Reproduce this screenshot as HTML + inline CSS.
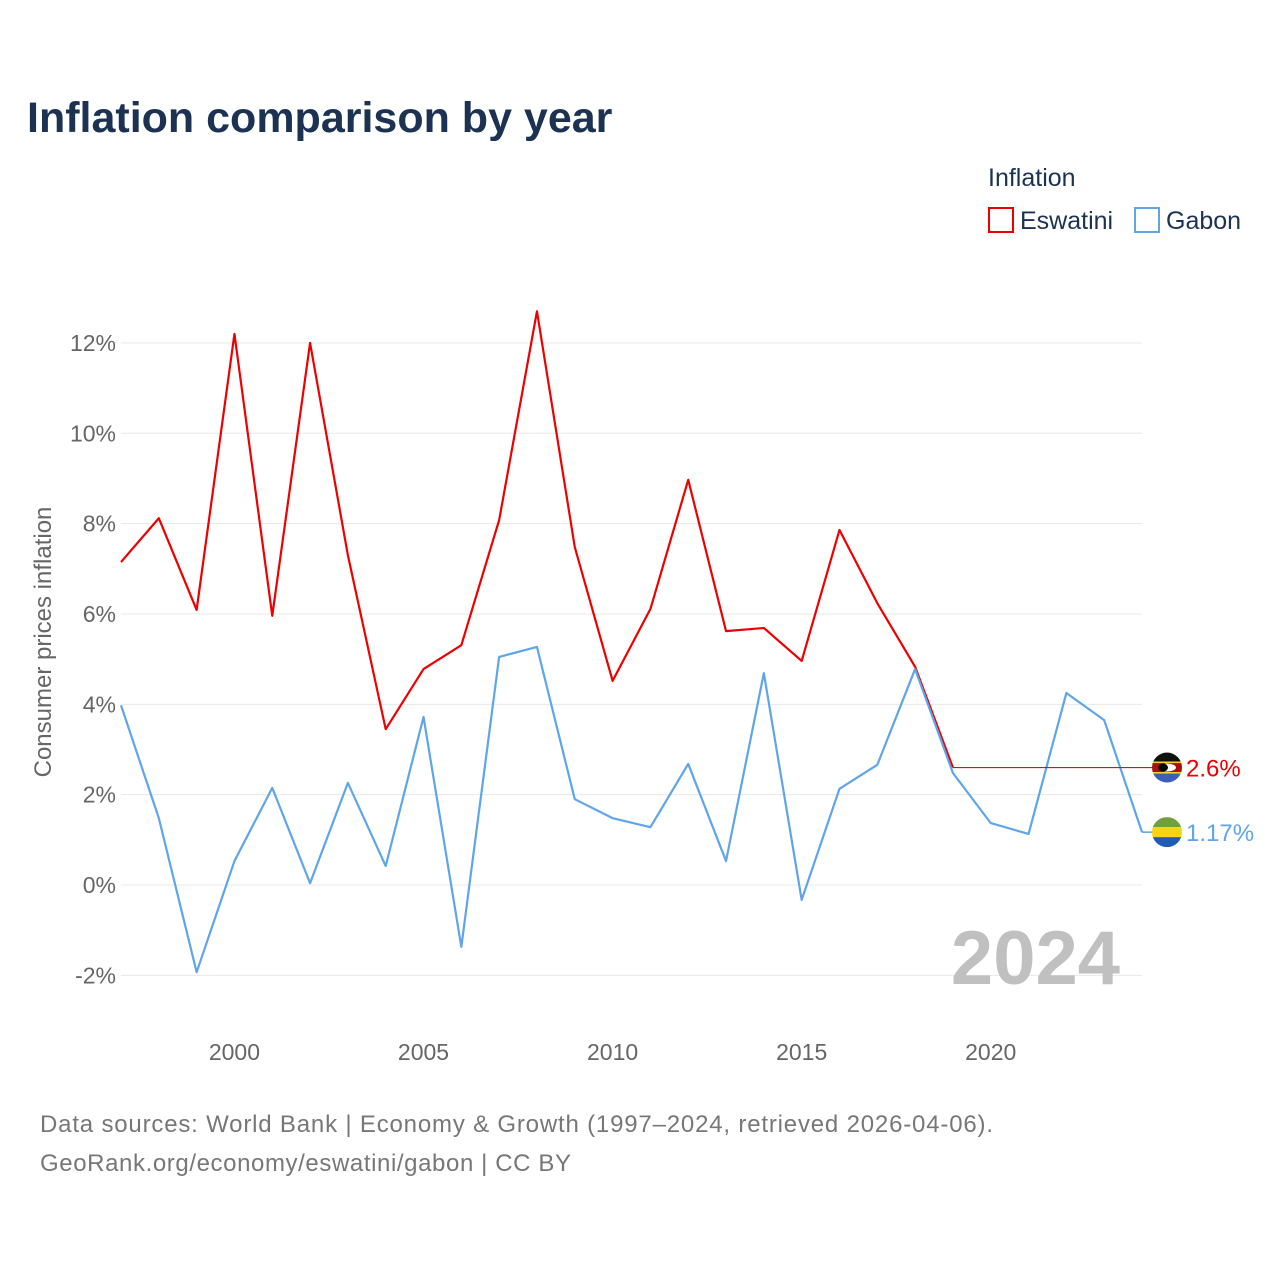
<!DOCTYPE html>
<html><head><meta charset="utf-8">
<style>
body{margin:0;background:#fff;font-family:"Liberation Sans",sans-serif;}
#wrap{position:relative;width:1280px;height:1280px;overflow:hidden;}
</style></head>
<body>
<div id="wrap">
<svg id="chart" width="1280" height="1280" xmlns="http://www.w3.org/2000/svg">
<text x="27" y="132" font-size="43" font-weight="bold" fill="#1b3252" font-family="Liberation Sans, sans-serif">Inflation comparison by year</text>
<text x="988" y="186" font-size="25" fill="#1b3252">Inflation</text>
<g><rect x="989" y="208" width="24" height="24" fill="none" stroke="#ee0000" stroke-width="2"/><text x="1020" y="229" font-size="25" fill="#1b3252">Eswatini</text></g>
<g><rect x="1135" y="208" width="24" height="24" fill="none" stroke="#5ea5ea" stroke-width="2"/><text x="1166" y="229" font-size="25" fill="#1b3252">Gabon</text></g>
<g id="grid"></g>
<g id="series"></g>
<text x="1120" y="984" text-anchor="end" font-size="76" font-weight="bold" fill="#c0c0c0">2024</text>
<text transform="translate(51,642) rotate(-90)" text-anchor="middle" font-size="24" fill="#666">Consumer prices inflation</text>
<text x="40" y="1132" font-size="24" fill="#777" textLength="953">Data sources: World Bank | Economy &amp; Growth (1997–2024, retrieved 2026-04-06).</text>
<text x="40" y="1171" font-size="24" fill="#777" textLength="531">GeoRank.org/economy/eswatini/gabon | CC BY</text>
</svg>
</div>
<script>
const years=[1997,1998,1999,2000,2001,2002,2003,2004,2005,2006,2007,2008,2009,2010,2011,2012,2013,2014,2015,2016,2017,2018,2019,2020,2021,2022,2023,2024];
const eswatini=[7.15,8.12,6.09,12.2,5.96,12.0,7.3,3.45,4.78,5.31,8.08,12.7,7.48,4.52,6.11,8.97,5.62,5.69,4.96,7.86,6.24,4.83,2.6];
const gabon=[3.98,1.48,-1.93,0.53,2.15,0.04,2.26,0.42,3.72,-1.37,5.05,5.27,1.9,1.48,1.28,2.68,0.53,4.69,-0.33,2.13,2.66,4.78,2.48,1.37,1.13,4.25,3.65,1.17];
const yTicks=[-2,0,2,4,6,8,10,12];
const yTickLabels=["-2%","0%","2%","4%","6%","8%","10%","12%"];
const xTicks=[2000,2005,2010,2015,2020];
const eswatiniLabel="2.6%";
const gabonLabel="1.17%";
const NS="http://www.w3.org/2000/svg";
const X0=121,X1=1142;
function xs(y){return X0+(y-1997)*(X1-X0)/(2024-1997);}
function ys(v){return 885-v*45.17;}
function mk(tag,attrs,parent){const e=document.createElementNS(NS,tag);for(const k in attrs)e.setAttribute(k,attrs[k]);parent.appendChild(e);return e;}
const grid=document.getElementById('grid'),ser=document.getElementById('series');
yTicks.forEach((t,i)=>{
 const l=mk('line',{x1:X0,x2:X1,y1:ys(t),y2:ys(t),stroke:'#e8e8e8','stroke-width':1},grid);
 
 
 const tx=mk('text',{x:116,y:ys(t)+8,'text-anchor':'end','font-size':23,fill:'#666'},grid);
 tx.textContent=yTickLabels[i];
 
 
});
xTicks.forEach(t=>{
 const tx=mk('text',{x:xs(t),y:1060,'text-anchor':'middle','font-size':23,fill:'#666'},grid);
 tx.textContent=t;
 
 
});
function line(vals,color,name){
 const pts=vals.map((v,i)=>xs(years[i])+','+ys(v)).join(' ');
 const p=mk('polyline',{points:pts,fill:'none',stroke:color,'stroke-width':2.2,'stroke-linejoin':'round'},ser);
 
 
}
line(eswatini,'#ee0000','eswatini-line');
line(gabon,'#5ea5ea','gabon-line');
const eLast=eswatini[eswatini.length-1],eY=ys(eLast);
const ext=mk('line',{x1:xs(years[eswatini.length-1]),x2:1155,y1:eY,y2:eY,stroke:'#dd1111','stroke-width':1.2},ser);


const gLast=gabon[gabon.length-1],gY=ys(gLast);
const gext=mk('line',{x1:X1,x2:1155,y1:gY,y2:gY,stroke:'#5ea5ea','stroke-width':1.5},ser);


function flag(cy,stripes,name,clip){
 const g=mk('g',{},ser);
 
 
 const cp=mk('clipPath',{id:clip},g);mk('circle',{cx:1167,cy:cy,r:15},cp);
 const gg=mk('g',{'clip-path':'url(#'+clip+')'},g);
 let y=cy-15;stripes.forEach(s=>{mk('rect',{x:1152,y:y,width:30,height:s[1],fill:s[0]},gg);y+=s[1];});
 return gg;
}
const ef=flag(eY,[['#111',9],['#fcd116',1.5],['#b10c0c',9],['#fcd116',1.5],['#3e5eb9',9]],'eswatini-flag','c1');
mk('ellipse',{cx:1167,cy:eY,rx:9,ry:4,fill:'#fff'},ef);
mk('ellipse',{cx:1163,cy:eY,rx:5,ry:4,fill:'#000'},ef);
flag(gY,[['#6ea03c',10],['#fcd116',10],['#1e5db3',10]],'gabon-flag','c2');
const el=mk('text',{x:1186,y:eY+9,'font-size':24,fill:'#ee0000'},ser);el.textContent=eswatiniLabel;


const gl=mk('text',{x:1186,y:gY+9,'font-size':24,fill:'#5ea5ea'},ser);gl.textContent=gabonLabel;


</script>
</body></html>
